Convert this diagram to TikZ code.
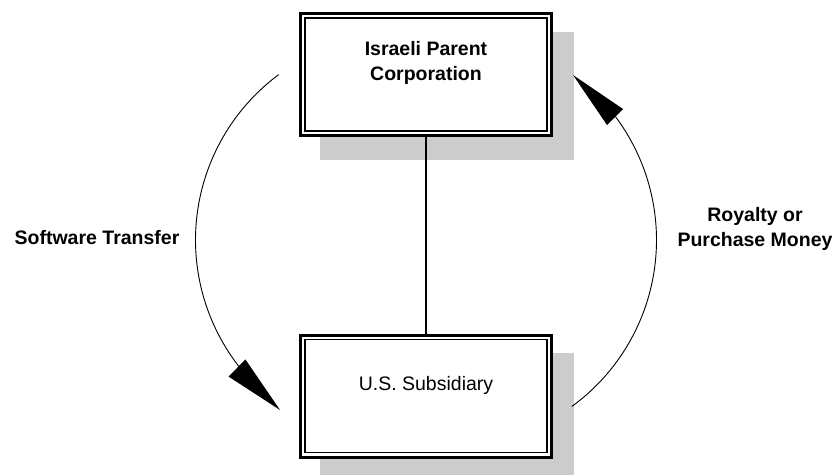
\documentclass[tikz,border=0pt]{standalone}
\usepackage{fontspec}
\setmainfont{Liberation Sans}
\usetikzlibrary{calc}
\definecolor{shadowgray}{RGB}{204,204,204}
\begin{document}
\begin{tikzpicture}[x=1pt,y=1pt,
  box/.style={draw=black, line width=3pt, fill=white, rectangle, outer sep=0pt, inner sep=0pt,
    minimum width=251pt, minimum height=122pt},
  lbl/.style={font=\fontsize{19.5}{25}\selectfont\bfseries, align=center, inner sep=0pt},
  boxtext/.style={font=\fontsize{19.5}{25}\selectfont, align=center, inner sep=0pt},
  flow/.style={line width=0.9pt},
  head/.style={fill=black}]
\useasboundingbox (0,0) rectangle (835,475);
% shadows
\fill[shadowgray] (320,443) rectangle (574,315);
\fill[shadowgray] (320,122) rectangle (574,0);
% boxes
\node[box] (top) at (426,400.5) {};
\node[box] (bot) at (426,79) {};
\draw[line width=1.5pt] ([shift={(4.6pt,-4.6pt)}]top.north west) rectangle ([shift={(-4.6pt,4.6pt)}]top.south east);
\draw[line width=1.5pt] ([shift={(4.6pt,-4.6pt)}]bot.north west) rectangle ([shift={(-4.6pt,4.6pt)}]bot.south east);
\node[lbl] (toptext) at (426,412.5) {Israeli Parent\\Corporation};
\node[boxtext] (bottext) at (426,90) {U.S. Subsidiary};
% link
\draw[line width=2pt] (top.south) -- (bot.north);
% left arc
\coordinate (lstart) at ($(401.5,235)+(126.6:206)$);
\draw[flow] (lstart) arc[start angle=126.6, end angle=217.9, radius=206] coordinate (lend);
\fill[head] (280,65) -- (245.4,115.6) -- (228.6,98.4) -- cycle;
% right arc
\coordinate (rstart) at ($(450.5,235)+(-53.9:206)$);
\draw[flow] (rstart) arc[start angle=-53.9, end angle=36.8, radius=206] coordinate (rend);
\fill[head] (573,400) -- (607,350) -- (623,366) -- cycle;
% labels
\node[lbl] (sw) at (97,237) {Software Transfer};
\node[lbl] (roy) at (755,246.5) {Royalty or\\Purchase Money};
\end{tikzpicture}
\end{document}
